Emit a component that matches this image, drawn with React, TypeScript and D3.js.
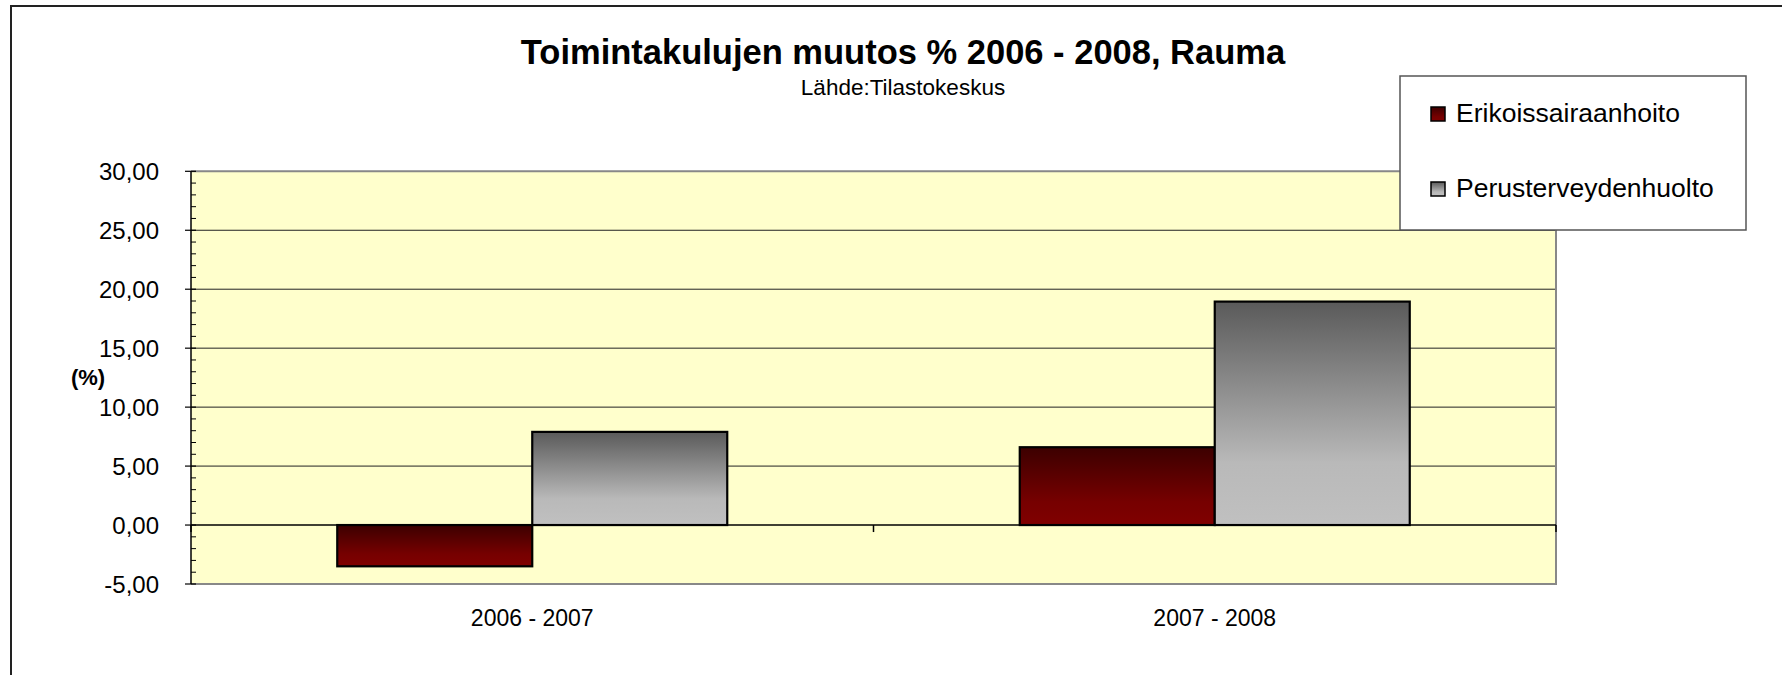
import React, { useEffect } from 'react';
import * as d3 from 'd3';

const categories = ['2006 - 2007', '2007 - 2008'];
const seriesNames = ['Erikoissairaanhoito', 'Perusterveydenhuolto'];
const erikoissairaanhoito = [-3.5, 6.6];
const perusterveydenhuolto = [7.9, 18.95];
const yTicks = [-5, 0, 5, 10, 15, 20, 25, 30];

const W = 1782;
const H = 675;
const plot = { left: 191, right: 1556, top: 171.3, bottom: 584 };
const font = '"Liberation Sans", Arial, sans-serif';

// Excel style: two decimals, comma separator, plain hyphen for minus
const fmt = (v: number) => d3.format('.2f')(v).replace('.', ',').replace('\u2212', '-');

const App = () => {
  useEffect(() => {
    document.body.style.margin = '0';
    document.body.style.overflow = 'hidden';
  }, []);

  const x = d3.scaleBand<string>().domain(categories).range([plot.left, plot.right]);
  const xInner = d3.scaleBand<string>().domain(seriesNames).range([0, x.bandwidth()]).paddingOuter(0.75);
  const y = d3.scaleLinear().domain([-5, 30]).range([plot.bottom, plot.top]);
  const minorTicks = d3.range(-5, 30, 1).filter(v => v % 5 !== 0);

  const series = [
    { name: seriesNames[0], values: erikoissairaanhoito, grad: 'url(#gRed)' },
    { name: seriesNames[1], values: perusterveydenhuolto, grad: 'url(#gGray)' },
  ];

  return (
    <svg width={W} height={H} style={{ position: 'absolute', left: 0, top: 0, display: 'block' }}>
      <defs>
        <linearGradient id="gRed" x1="0" y1="0" x2="0" y2="1">
          <stop offset="0" stopColor="#3c0000" />
          <stop offset="0.7" stopColor="#760000" />
          <stop offset="1" stopColor="#800000" />
        </linearGradient>
        <linearGradient id="gGray" x1="0" y1="0" x2="0" y2="1">
          <stop offset="0" stopColor="#5a5a5a" />
          <stop offset="0.72" stopColor="#b9b9b9" />
          <stop offset="1" stopColor="#c0c0c0" />
        </linearGradient>
      </defs>
      <rect x={0} y={0} width={W} height={H} fill="#fff" />
      {/* chart area border: only top and left are inside the page */}
      <polyline points={`11,${H + 5} 11,6 ${W + 5},6`} fill="none" stroke="#222" strokeWidth={2} />

      <text x={903} y={64} textAnchor="middle" fontFamily={font} fontWeight="bold" fontSize={34.5}>
        Toimintakulujen muutos % 2006 - 2008, Rauma
      </text>
      <text x={903} y={95} textAnchor="middle" fontFamily={font} fontSize={22.5}>
        Lähde:Tilastokeskus
      </text>

      {/* plot area */}
      <rect x={plot.left} y={plot.top} width={plot.right - plot.left} height={plot.bottom - plot.top} fill="#ffffcc" />
      {yTicks.filter(v => v !== 0 && v !== -5 && v !== 30).map(v => (
        <line key={v} x1={plot.left} x2={plot.right} y1={y(v)} y2={y(v)} stroke="#222" strokeWidth={1} />
      ))}
      <polyline
        points={`${plot.left},${plot.top} ${plot.right},${plot.top} ${plot.right},${plot.bottom} ${plot.left},${plot.bottom}`}
        fill="none" stroke="#888" strokeWidth={2}
      />

      {/* bars */}
      {series.map(s =>
        categories.map((c, i) => {
          const v = s.values[i];
          const bx = x(c)! + xInner(s.name)!;
          return (
            <rect key={s.name + c} x={bx} y={y(Math.max(0, v))} width={xInner.bandwidth()}
              height={Math.abs(y(v) - y(0))} fill={s.grad} stroke="#000" strokeWidth={2.2} />
          );
        })
      )}

      {/* x axis at zero */}
      <line x1={plot.left} x2={plot.right} y1={y(0)} y2={y(0)} stroke="#000" strokeWidth={1.5} />
      {[...categories.map(c => x(c)!), plot.right].map((tx, i) => (
        <line key={i} x1={tx} x2={tx} y1={y(0)} y2={y(0) + 7} stroke="#000" strokeWidth={1.5} />
      ))}
      {categories.map(c => (
        <text key={c} x={x(c)! + x.bandwidth() / 2} y={626} textAnchor="middle" fontFamily={font} fontSize={23}>
          {c}
        </text>
      ))}

      {/* y axis */}
      <line x1={plot.left} x2={plot.left} y1={plot.top} y2={plot.bottom} stroke="#000" strokeWidth={1.5} />
      {yTicks.map(v => (
        <g key={v}>
          <line x1={plot.left - 6} x2={plot.left + 5} y1={y(v)} y2={y(v)} stroke="#000" strokeWidth={1.2} />
          <text x={159} y={y(v)} dy="0.36em" textAnchor="end" fontFamily={font} fontSize={24}>
            {fmt(v)}
          </text>
        </g>
      ))}
      {minorTicks.map(v => (
        <line key={v} x1={plot.left} x2={plot.left + 5} y1={y(v)} y2={y(v)} stroke="#000" strokeWidth={1} />
      ))}
      <text x={88} y={377} dy="0.36em" textAnchor="middle" fontFamily={font} fontWeight="bold" fontSize={22}>
        (%)
      </text>

      {/* legend */}
      <rect x={1400} y={76} width={346} height={154} fill="#fff" stroke="#555" strokeWidth={1.5} />
      {series.map((s, i) => (
        <g key={s.name} transform={`translate(1431, ${107 + i * 75})`}>
          <rect x={0} y={0} width={14} height={14} fill={s.grad} stroke="#000" strokeWidth={1.5} />
          <text x={25} y={14.5} fontFamily={font} fontSize={26.5}>
            {s.name}
          </text>
        </g>
      ))}
    </svg>
  );
};

export default App;
